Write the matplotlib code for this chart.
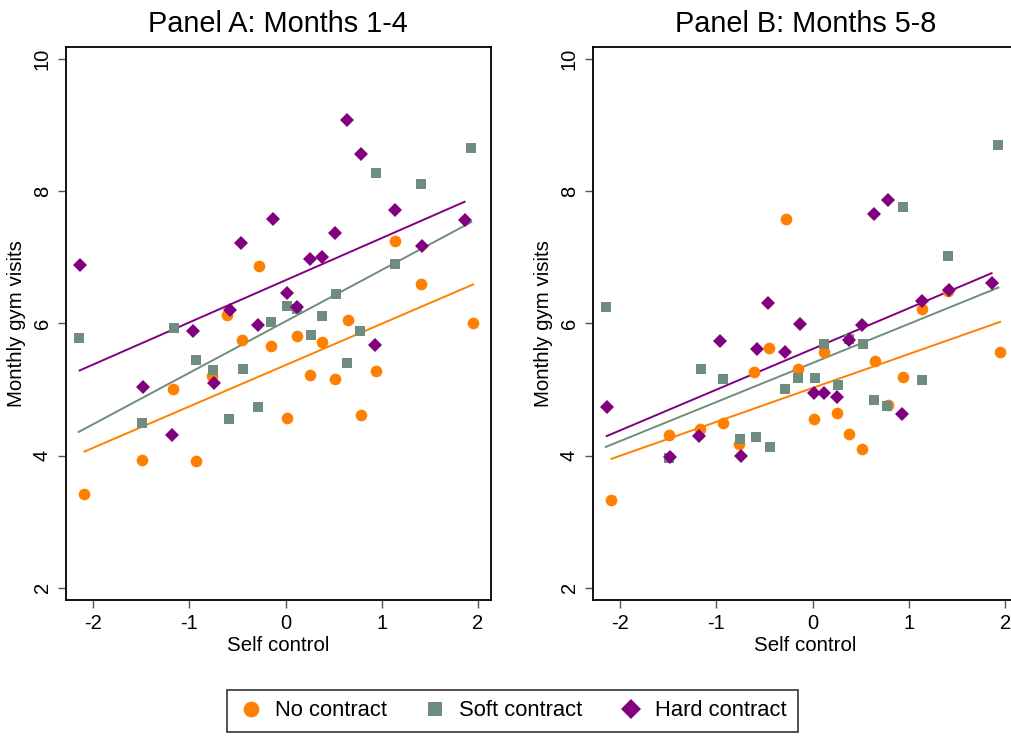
import matplotlib.pyplot as plt
import numpy as np

plt.rcParams['font.family'] = ['Liberation Sans', 'DejaVu Sans']
plt.rcParams['axes.unicode_minus'] = False

# couleurs des groupes
c_no = '#FF8000'
c_soft = '#6E8C80'
c_hard = '#800080'

# self control (moyenne par groupe)
x_no = [-2.09, -1.49, -1.17, -0.93, -0.76, -0.61, -0.45, -0.28, -0.15, 0.01,
        0.12, 0.25, 0.38, 0.51, 0.65, 0.78, 0.94, 1.14, 1.41, 1.95]
x_soft = [-2.15, -1.49, -1.16, -0.93, -0.75, -0.59, -0.44, -0.29, -0.15, 0.02,
          0.12, 0.26, 0.38, 0.52, 0.64, 0.77, 0.94, 1.14, 1.41, 1.93]
x_hard = [-2.14, -1.48, -1.18, -0.96, -0.74, -0.58, -0.46, -0.29, -0.13, 0.01,
          0.12, 0.25, 0.38, 0.51, 0.64, 0.78, 0.93, 1.14, 1.42, 1.86]

# Panel A : mois 1-4
a_no = [3.42, 3.93, 5.01, 3.92, 5.21, 6.13, 5.75, 6.86, 5.66, 4.57,
        5.81, 5.22, 5.71, 5.16, 6.05, 4.62, 5.28, 7.24, 6.60, 6.01]
a_soft = [5.78, 4.49, 5.93, 5.45, 5.30, 4.55, 5.31, 4.73, 6.02, 6.26,
          6.21, 5.82, 6.11, 6.44, 5.40, 5.89, 8.27, 6.89, 8.10, 8.65]
a_hard = [6.88, 5.04, 4.31, 5.88, 5.10, 6.20, 7.21, 5.98, 7.58, 6.46,
          6.25, 6.98, 7.00, 7.37, 9.07, 8.56, 5.67, 7.72, 7.17, 7.56]

# Panel B : mois 5-8
b_no = [3.33, 4.31, 4.40, 4.49, 4.17, 5.27, 5.62, 7.58, 5.31, 4.55,
        5.56, 4.65, 4.33, 4.10, 5.43, 4.77, 5.19, 6.22, 6.49, 5.57]
b_soft = [6.24, 3.96, 5.31, 5.15, 4.25, 4.28, 4.13, 5.00, 5.17, 5.18,
          5.68, 5.06, 5.77, 5.68, 4.84, 4.75, 7.76, 5.14, 7.02, 8.70]
b_hard = [4.74, 3.97, 4.29, 5.73, 4.00, 5.61, 6.31, 5.57, 5.99, 4.95,
          4.94, 4.88, 5.74, 5.97, 7.66, 7.87, 4.63, 6.34, 6.51, 6.61]

# droites ajustees (constante, pente)
fit_a = {'no': (5.368, 0.626), 'soft': (6.029, 0.778), 'hard': (6.652, 0.638)}
fit_b = {'no': (5.022, 0.513), 'soft': (5.400, 0.591), 'hard': (5.612, 0.616)}

labels = ['No contract', 'Soft contract', 'Hard contract']
titles = ['Panel A: Months 1-4', 'Panel B: Months 5-8']

fig = plt.figure(figsize=(10.12, 7.38), dpi=100)
ax_a = fig.add_axes([0.0649, 0.187, 0.4203, 0.7493])
ax_b = fig.add_axes([0.5857, 0.187, 0.4203, 0.7493])

groups = [
    ('no', x_no, c_no, 'o', 8.4),
    ('soft', x_soft, c_soft, 's', 7.8),
    ('hard', x_hard, c_hard, 'D', 7.6),
]

handles = []
for ax, ydata, fit, title in [(ax_a, (a_no, a_soft, a_hard), fit_a, titles[0]),
                              (ax_b, (b_no, b_soft, b_hard), fit_b, titles[1])]:
    for (key, xs, col, mk, ms), ys, lab in zip(groups, ydata, labels):
        xs = np.array(xs)
        c0, c1 = fit[key]
        xl = np.array([xs.min(), xs.max()])
        ax.plot(xl, c0 + c1 * xl, color=col, lw=1.4, zorder=2)
        h, = ax.plot(xs, ys, linestyle='none', marker=mk, ms=ms, color=col,
                     markeredgewidth=0, label=lab, zorder=3)
        if ax is ax_a:
            handles.append(h)

    ax.set_xlim(-2.285, 2.135)
    ax.set_ylim(1.814, 10.18)
    ax.set_xticks([-2, -1, 0, 1, 2])
    ax.set_yticks([2, 4, 6, 8, 10])
    ax.tick_params(axis='both', direction='out', length=6, width=1,
                   color='#555555', labelsize=14.5, pad=4)
    for lbl in ax.get_yticklabels():
        lbl.set_rotation(90)
        lbl.set_va('center')
    for s in ax.spines.values():
        s.set_linewidth(1.3)
        s.set_color('black')
    ax.set_title(title, fontsize=20.8, pad=11)
    ax.set_xlabel('Self control', fontsize=14.8, labelpad=2)
    ax.set_ylabel('Monthly gym visits', fontsize=14.8, labelpad=5)

leg = fig.legend(handles=handles, labels=labels, loc='center',
                 bbox_to_anchor=(0.506, 0.0366), ncol=3, fontsize=15.8,
                 frameon=True, fancybox=False, edgecolor='black',
                 handletextpad=0.5, columnspacing=1.6, borderpad=0.5,
                 handlelength=1.2, markerscale=1.35)
leg.get_frame().set_linewidth(1.2)

fig.savefig('out.png', dpi=100)
